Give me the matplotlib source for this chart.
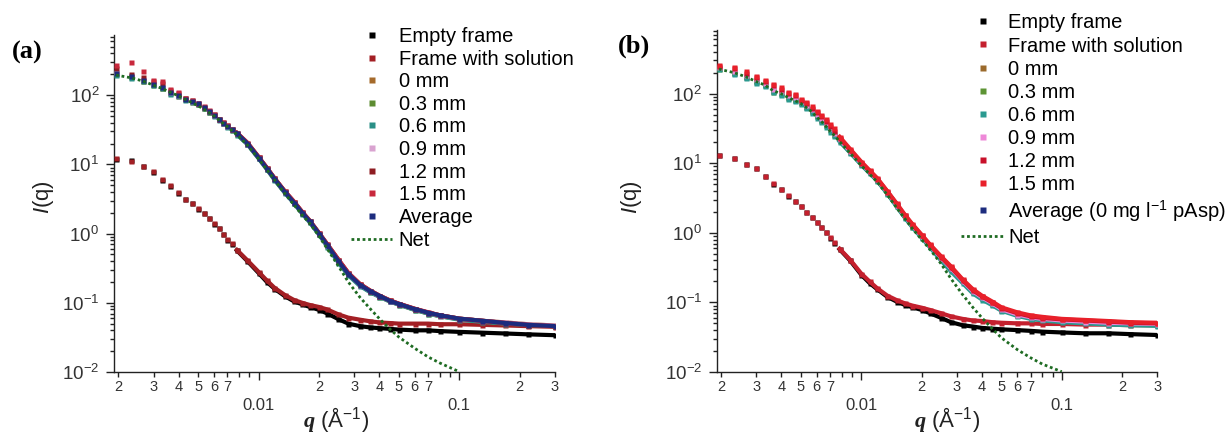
import matplotlib
matplotlib.use('Agg')
import matplotlib.pyplot as plt
from matplotlib import ticker
import numpy as np

plt.rcParams['font.family'] = ['Liberation Sans', 'DejaVu Sans']
plt.rcParams['mathtext.fontset'] = 'custom'
plt.rcParams['mathtext.rm'] = 'Liberation Sans'
plt.rcParams['mathtext.it'] = 'Liberation Sans:italic'
plt.rcParams['mathtext.bf'] = 'Liberation Sans:bold'
plt.rcParams['mathtext.bfit'] = 'Liberation Serif:italic:bold'

## q (1/A), mesma grade para todas as curvas
q = [0.00195, 0.00232, 0.00265, 0.00298, 0.0033, 0.00364, 0.00398, 0.00432, 0.00465, 0.005,
     0.00533, 0.00566, 0.006, 0.00633, 0.00667, 0.007, 0.00735, 0.0078, 0.0088, 0.01,
     0.011, 0.012, 0.0135, 0.015, 0.0165, 0.018, 0.02, 0.022, 0.025, 0.028,
     0.032, 0.036, 0.04, 0.045, 0.05, 0.06, 0.07, 0.08, 0.1, 0.13,
     0.17, 0.22, 0.3]
q_net = q[:39]

rotulos = ['Empty frame', 'Frame with solution', '0 mm', '0.3 mm', '0.6 mm',
           '0.9 mm', '1.2 mm', '1.5 mm']

## painel (a)
vazio_a = [12.1, 11.4, 9.4, 7.8, 6.0, 4.9, 3.9, 3.2, 2.8, 2.3,
           2.0, 1.67, 1.38, 1.19, 0.97, 0.82, 0.71, 0.57, 0.4, 0.27,
           0.2, 0.16, 0.125, 0.105, 0.095, 0.087, 0.079, 0.07, 0.058, 0.05,
           0.046, 0.044, 0.043, 0.042, 0.041, 0.04, 0.04, 0.039, 0.038, 0.037,
           0.036, 0.035, 0.034]
solucao_a = [12.5, 11.2, 9.6, 7.9, 6.1, 5.0, 4.0, 3.2, 2.8, 2.35,
             2.0, 1.7, 1.4, 1.2, 0.98, 0.83, 0.72, 0.58, 0.41, 0.28,
             0.21, 0.165, 0.13, 0.11, 0.1, 0.093, 0.087, 0.08, 0.068, 0.061,
             0.057, 0.054, 0.052, 0.051, 0.05, 0.05, 0.05, 0.049, 0.049, 0.048,
             0.047, 0.046, 0.045]
mm0_a = [210, 190, 160, 145, 128, 110, 98, 90, 80, 74,
         66, 58, 51, 45, 40, 35.5, 32, 27.5, 20, 12.6,
         8.8, 6.3, 4.0, 2.85, 2.0, 1.5, 1.0, 0.69, 0.41, 0.265,
         0.185, 0.148, 0.126, 0.108, 0.096, 0.081, 0.072, 0.066, 0.059, 0.055,
         0.052, 0.049, 0.047]
mm03_a = [200, 180, 162, 140, 127, 107, 99, 87, 81, 75,
          66, 58, 51, 44.5, 39.5, 35.5, 31.5, 27.5, 19.8, 12.4,
          8.6, 6.1, 3.95, 2.8, 1.98, 1.48, 0.99, 0.67, 0.4, 0.26,
          0.18, 0.144, 0.123, 0.105, 0.094, 0.079, 0.07, 0.064, 0.058, 0.054,
          0.051, 0.048, 0.046]
mm06_a = [198, 178, 160, 138, 125, 105, 97, 86, 80, 74,
          65, 57, 50, 44, 39, 35, 31, 27, 19.5, 12.2,
          8.5, 6.0, 3.9, 2.75, 1.95, 1.45, 0.97, 0.65, 0.38, 0.25,
          0.175, 0.142, 0.122, 0.105, 0.094, 0.079, 0.07, 0.064, 0.057, 0.053,
          0.05, 0.048, 0.046]
mm09_a = [215, 195, 170, 150, 135, 112, 102, 90, 83, 77,
          68, 60, 52, 46, 40, 36, 32, 28, 20, 12.6,
          8.8, 6.3, 4.05, 2.85, 2.02, 1.52, 1.01, 0.69, 0.41, 0.265,
          0.183, 0.147, 0.125, 0.107, 0.096, 0.081, 0.072, 0.065, 0.059, 0.055,
          0.052, 0.049, 0.047]
mm12_a = [250, 200, 182, 160, 150, 118, 106, 91, 84, 77,
          68, 60, 53, 46, 40.5, 36.5, 32.5, 28.5, 20.5, 12.8,
          8.9, 6.3, 4.1, 2.9, 2.05, 1.53, 1.02, 0.7, 0.42, 0.27,
          0.186, 0.15, 0.127, 0.108, 0.097, 0.082, 0.072, 0.066, 0.059, 0.055,
          0.051, 0.048, 0.046]
mm15_a = [272, 304, 225, 165, 161, 121, 112, 92, 86, 78,
          69, 61, 53, 46, 41, 36.5, 32.5, 28.5, 20.5, 12.8,
          8.9, 6.3, 4.1, 2.9, 2.05, 1.53, 1.02, 0.7, 0.42, 0.27,
          0.187, 0.15, 0.127, 0.109, 0.097, 0.082, 0.073, 0.066, 0.059, 0.055,
          0.051, 0.048, 0.046]
media_a = [210, 188, 165, 145, 132, 110, 100, 89, 82, 76,
           67, 59, 52, 45, 40, 36, 32, 28, 20, 12.5,
           8.7, 6.2, 4.0, 2.8, 2.0, 1.5, 1.0, 0.68, 0.4, 0.26,
           0.182, 0.147, 0.126, 0.107, 0.096, 0.081, 0.072, 0.066, 0.059, 0.055,
           0.051, 0.048, 0.046]
liquido_a = [195, 178, 160, 140, 125, 110, 98, 87, 78, 70,
             63, 56, 50, 44, 39, 35, 31, 27, 19, 12,
             8.4, 6.0, 3.8, 2.6, 1.85, 1.4, 0.92, 0.6, 0.34, 0.2,
             0.12, 0.082, 0.059, 0.042, 0.032, 0.022, 0.0165, 0.0135, 0.0101]

## painel (b)
vazio_b = [13.1, 11.9, 9.8, 8.4, 6.5, 5.1, 4.2, 3.4, 2.88, 2.44,
           2.0, 1.67, 1.41, 1.22, 1.01, 0.85, 0.72, 0.58, 0.4, 0.25,
           0.19, 0.155, 0.12, 0.103, 0.092, 0.085, 0.078, 0.07, 0.06, 0.052,
           0.047, 0.045, 0.043, 0.042, 0.041, 0.04, 0.039, 0.038, 0.037, 0.036,
           0.036, 0.035, 0.034]
solucao_b = [13.3, 12.0, 9.9, 8.5, 6.6, 5.2, 4.3, 3.5, 2.9, 2.45,
             2.02, 1.7, 1.43, 1.23, 1.02, 0.86, 0.73, 0.59, 0.41, 0.26,
             0.2, 0.16, 0.125, 0.108, 0.097, 0.09, 0.084, 0.078, 0.07, 0.063,
             0.058, 0.055, 0.054, 0.052, 0.051, 0.05, 0.05, 0.049, 0.049, 0.048,
             0.048, 0.047, 0.047]
mm0_b = [235, 205, 180, 155, 138, 115, 105, 92, 85, 77,
         67, 58, 49, 43, 36.5, 31.5, 27, 22, 15, 10,
         7.6, 5.9, 3.85, 2.55, 1.75, 1.28, 0.9, 0.66, 0.44, 0.31,
         0.205, 0.145, 0.118, 0.097, 0.08, 0.067, 0.061, 0.058, 0.055, 0.053,
         0.051, 0.05, 0.049]
mm03_b = [228, 195, 172, 147, 131, 107, 99, 87, 81, 74,
          64, 55, 47, 41, 35, 30, 25.5, 21, 14.5, 9.7,
          7.4, 5.7, 3.7, 2.45, 1.68, 1.23, 0.87, 0.64, 0.42, 0.3,
          0.2, 0.14, 0.115, 0.094, 0.078, 0.066, 0.06, 0.057, 0.054, 0.052,
          0.05, 0.049, 0.048]
mm06_b = [222, 190, 168, 143, 128, 104, 96, 85, 79, 72,
          62, 53, 45, 39, 33.5, 28.5, 24.5, 20.5, 14.2, 9.5,
          7.2, 5.6, 3.65, 2.4, 1.65, 1.2, 0.85, 0.62, 0.4, 0.28,
          0.19, 0.135, 0.11, 0.091, 0.076, 0.064, 0.058, 0.055, 0.052, 0.05,
          0.048, 0.047, 0.046]
mm09_b = [240, 210, 185, 160, 142, 118, 108, 95, 88, 79,
          69, 60, 51, 44, 37.5, 32, 27.5, 22, 15, 10,
          7.6, 5.9, 3.85, 2.55, 1.75, 1.28, 0.9, 0.66, 0.44, 0.31,
          0.205, 0.145, 0.118, 0.097, 0.08, 0.067, 0.061, 0.058, 0.055, 0.053,
          0.051, 0.05, 0.049]
mm12_b = [250, 230, 200, 175, 152, 132, 118, 101, 94, 81,
          73, 63, 54, 47, 40, 34, 29, 23, 15.5, 10.2,
          7.7, 6.0, 3.9, 2.6, 1.78, 1.3, 0.92, 0.67, 0.45, 0.32,
          0.21, 0.15, 0.122, 0.1, 0.083, 0.07, 0.063, 0.06, 0.057, 0.055,
          0.053, 0.051, 0.05]
mm15_b = [255, 240, 210, 182, 158, 138, 123, 105, 98, 84,
          76, 66, 57, 50, 43, 37, 32, 24, 16, 10.5,
          7.9, 6.1, 3.95, 2.65, 1.82, 1.33, 0.94, 0.68, 0.46, 0.33,
          0.215, 0.155, 0.125, 0.103, 0.085, 0.072, 0.065, 0.062, 0.058, 0.056,
          0.054, 0.052, 0.051]
media_b = [230, 198, 175, 150, 134, 110, 101, 89, 82, 75,
           65, 56, 48, 42, 35.5, 30.5, 26, 21.2, 14.6, 9.8,
           7.4, 5.75, 3.75, 2.48, 1.7, 1.25, 0.88, 0.64, 0.42, 0.3,
           0.2, 0.14, 0.115, 0.094, 0.078, 0.066, 0.06, 0.057, 0.054, 0.052,
           0.05, 0.049, 0.048]
liquido_b = [225, 200, 175, 150, 133, 110, 100, 88, 80, 72,
             63, 55, 46, 40, 34, 29, 25, 20.5, 14, 9.3,
             7.0, 5.4, 3.5, 2.3, 1.6, 1.15, 0.8, 0.58, 0.36, 0.22,
             0.13, 0.085, 0.06, 0.042, 0.031, 0.021, 0.016, 0.013, 0.0101]

cores_a = ['#000000', '#a31f24', '#a56a2b', '#5d8c32', '#2a8f86',
           '#d9a3d0', '#8e1c22', '#c8283c']
cores_b = ['#000000', '#c4202e', '#9b6a2c', '#5d9434', '#2a9a90',
           '#ee88d8', '#c8102a', '#e8202a']
cor_media = '#1d2c7e'
cor_net = '#1e6b22'

LIMITE_DENSO = 0.0075   # acima disso os pontos ficam colados


def rotulo_menor(v, pos):
    d = int(round(v / 10 ** np.floor(np.log10(v) + 1e-9)))
    return str(d) if 2 <= d <= 7 else ''


def montar_eixo(ax, ytop):
    ax.set_xscale('log')
    ax.set_yscale('log')
    ax.set_xlim(0.0019, 0.3)
    ax.set_ylim(0.01, ytop)
    for s in ['top', 'right']:
        ax.spines[s].set_visible(False)
    for s in ['left', 'bottom']:
        ax.spines[s].set_color('#222222')
        ax.spines[s].set_linewidth(1.0)
    ax.xaxis.set_major_locator(ticker.LogLocator(base=10, numticks=10))
    ax.xaxis.set_minor_locator(ticker.LogLocator(base=10, subs=np.arange(2, 10), numticks=20))
    ax.xaxis.set_major_formatter(ticker.FuncFormatter(lambda v, p: f'{v:g}'))
    ax.xaxis.set_minor_formatter(ticker.FuncFormatter(rotulo_menor))
    ax.yaxis.set_major_locator(ticker.LogLocator(base=10, numticks=10))
    ax.yaxis.set_minor_locator(ticker.LogLocator(base=10, subs=np.arange(2, 10), numticks=20))
    ax.yaxis.set_minor_formatter(ticker.NullFormatter())
    ax.tick_params(axis='x', which='major', length=6, width=1, pad=13, labelsize=12,
                   colors='#222222', labelcolor='#333333')
    ax.tick_params(axis='x', which='minor', length=3.5, width=1, pad=2, labelsize=10.5,
                   colors='#222222', labelcolor='#333333')
    ax.tick_params(axis='y', which='major', length=5.5, width=1, pad=5, labelsize=13.5,
                   colors='#222222', labelcolor='#333333')
    ax.tick_params(axis='y', which='minor', length=3, width=1, colors='#222222')


def curva(ax, y, cor, rotulo, z):
    qa = np.array(q)
    ya = np.array(y)
    denso = qa >= LIMITE_DENSO
    ax.plot(qa[denso], ya[denso], '-', color=cor, lw=3.0, zorder=z)
    h, = ax.plot(qa, ya, 's', color=cor, ms=3.6, mec='none', label=rotulo, zorder=z)
    return h


def painel(ax, series, media, liquido, cores, ordem, ytop):
    montar_eixo(ax, ytop)
    handles = {}
    for i in ordem:
        if i == 'media':
            handles[i] = curva(ax, media, cor_media, 'Average', 3 + len(handles) * 0.01)
        else:
            handles[i] = curva(ax, series[i], cores[i], rotulos[i], 3 + len(handles) * 0.01)
    hnet, = ax.plot(q_net, liquido, linestyle=(0, (1, 1)), color=cor_net, lw=2.0,
                    label='Net', zorder=5)
    lista = [handles[i] for i in range(8)] + [handles['media'], hnet]
    return lista


fig = plt.figure(figsize=(12.31, 4.37), dpi=100)
W, H = 1231, 437

ax_a = fig.add_axes([113.8 / W, 1 - 372 / H, (555 - 113.8) / W, (372 - 35) / H])
ax_b = fig.add_axes([716.6 / W, 1 - 372 / H, (1157.4 - 716.6) / W, (372 - 30) / H])

series_a = [vazio_a, solucao_a, mm0_a, mm03_a, mm06_a, mm09_a, mm12_a, mm15_a]
series_b = [vazio_b, solucao_b, mm0_b, mm03_b, mm06_b, mm09_b, mm12_b, mm15_b]

lista_a = painel(ax_a, series_a, media_a, liquido_a, cores_a,
                 [0, 1, 2, 3, 4, 5, 6, 7, 'media'], 740)
lista_b = painel(ax_b, series_b, media_b, liquido_b, cores_b,
                 [0, 1, 'media', 2, 3, 4, 5, 6, 7], 820)

ax_a.legend(lista_a, [h.get_label() for h in lista_a], loc='upper left',
            bbox_to_anchor=(351 / W, 1 - 27 / H), bbox_transform=fig.transFigure,
            frameon=False, fontsize=14.5, borderpad=0, borderaxespad=0,
            handlelength=2.05, handletextpad=0.32, labelspacing=0.18, markerscale=1.3)
rot_b = [h.get_label() for h in lista_b]
rot_b[8] = 'Average (0 mg l$^{-1}$ pAsp)'
ax_b.legend(lista_b, rot_b, loc='upper left',
            bbox_to_anchor=(961 / W, 1 - 13.5 / H), bbox_transform=fig.transFigure,
            frameon=False, fontsize=14.5, borderpad=0, borderaxespad=0,
            handlelength=2.2, handletextpad=0.14, labelspacing=0.2, markerscale=1.3)

## rotulos dos eixos e letras dos paineis
for xl, xq in [(43.5, 336), (631.7, 947)]:
    fig.text(xl / W, 1 - 197 / H, r'$\mathit{I}$(q)', rotation=90, fontsize=16,
             ha='center', va='center', color='#222222')
    fig.text(xq / W, 1 - 420 / H, r'$\mathbfit{q}$ (Å$^{-1}$)', fontsize=16,
             ha='center', va='center', color='#222222')
fig.text(27 / W, 1 - 52 / H, '(a)', family='Liberation Serif', fontweight='bold',
         fontsize=19, ha='center', va='center')
fig.text(634 / W, 1 - 46 / H, '(b)', family='Liberation Serif', fontweight='bold',
         fontsize=19, ha='center', va='center')

fig.savefig('out.png', dpi=100)
